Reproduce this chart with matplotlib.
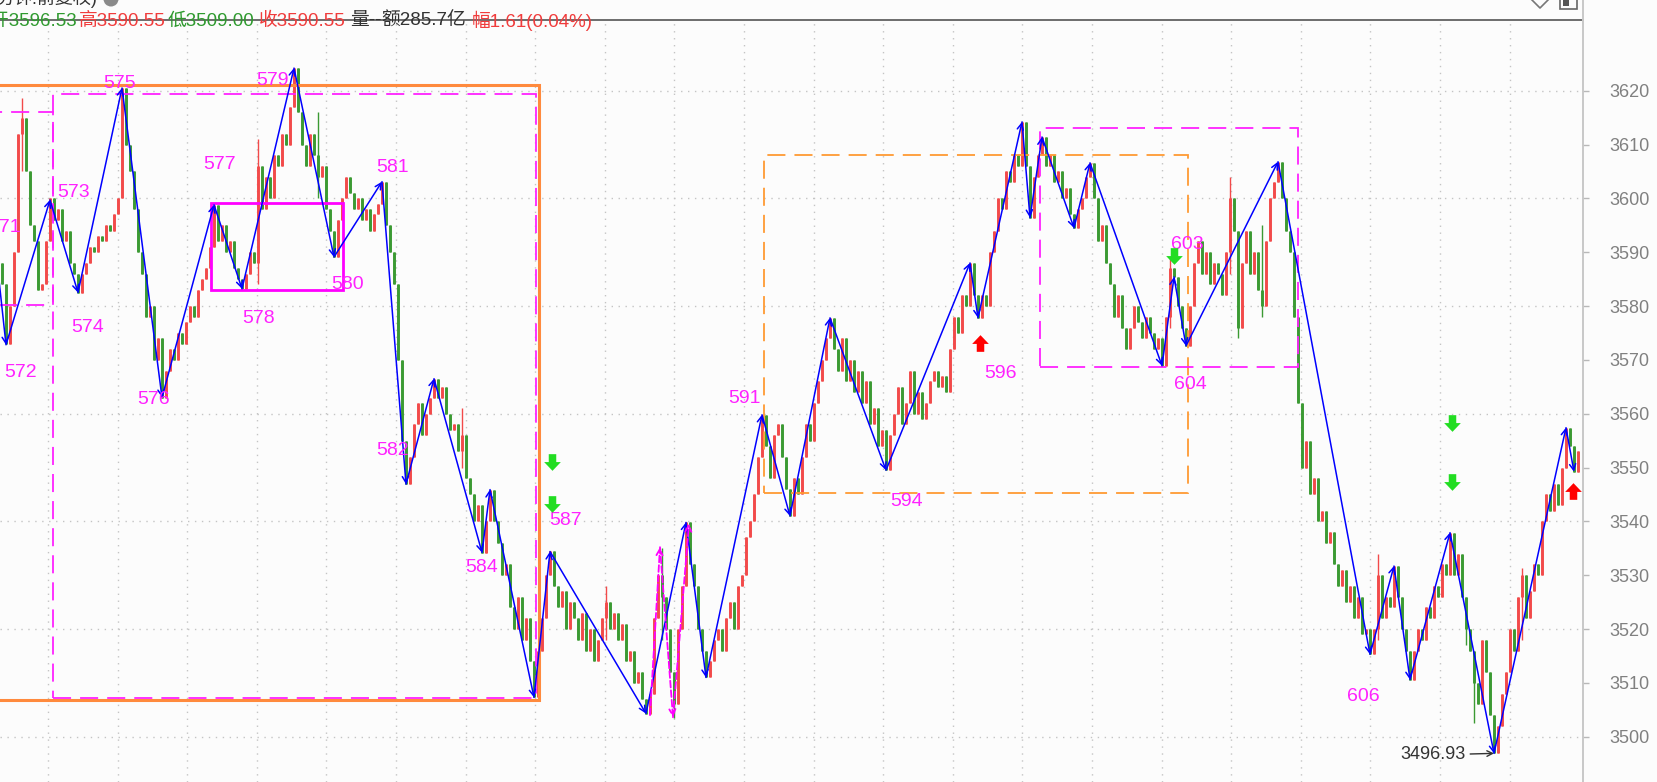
import matplotlib
matplotlib.use("Agg")
import matplotlib.pyplot as plt
from matplotlib.path import Path
from matplotlib.patches import Rectangle, Circle
import numpy as np

plt.rcParams['font.family'] = ['Liberation Sans', 'Noto Sans CJK SC', 'DejaVu Sans']

# ---------------- data ----------------
open0 = 3588.0
closes = [
    3584, 3573, 3580, 3590, 3612, 3615, 3605, 3595, 3592, 3583,
    3584, 3592, 3600, 3596, 3598, 3592, 3594, 3588, 3586, 3582.5,
    3586, 3588, 3591, 3590, 3593, 3592, 3595, 3594, 3597, 3600,
    3620.5, 3610, 3605, 3598, 3590, 3586, 3578, 3580, 3570, 3574,
    3563, 3568, 3572, 3570, 3575, 3573, 3577, 3580, 3578, 3583,
    3585, 3587, 3591, 3598.8, 3592, 3595, 3590, 3592, 3587, 3585,
    3583.2, 3586, 3590, 3588, 3606, 3598, 3604, 3600, 3608, 3606,
    3612, 3610, 3617, 3624.2, 3616, 3610, 3606, 3612, 3608, 3604,
    3606, 3598, 3594, 3589.1, 3596, 3600, 3604, 3601, 3598, 3600,
    3596, 3598, 3594, 3597, 3599, 3603.1, 3595, 3590, 3584, 3570,
    3555, 3546.9, 3552, 3558, 3562, 3556, 3560, 3563, 3566.5, 3563,
    3565, 3560, 3557, 3558, 3553, 3556, 3548, 3545, 3540, 3543,
    3534.2, 3540, 3545.9, 3540, 3536, 3530, 3532, 3524, 3520, 3526,
    3518, 3522, 3514, 3507.3, 3516, 3522, 3530, 3534.4, 3528, 3524,
    3527, 3520, 3525, 3522, 3518, 3523, 3516, 3520, 3514, 3518,
    3522, 3525, 3520, 3523, 3518, 3521, 3514, 3516, 3510, 3512,
    3507, 3504.3, 3508, 3522, 3530, 3526, 3520, 3512, 3506, 3520,
    3528, 3539.8, 3532, 3528, 3520, 3516, 3511, 3514, 3518, 3520,
    3516, 3522, 3525, 3520, 3528, 3530, 3537, 3540, 3545, 3552,
    3559.8, 3554, 3548, 3556, 3558, 3552, 3546, 3541, 3548, 3545,
    3552, 3558, 3555, 3562, 3566, 3570, 3574, 3577.8, 3572, 3568,
    3574, 3566, 3570, 3564, 3568, 3562, 3566, 3558, 3561, 3554,
    3557, 3549.5, 3556, 3560, 3565, 3558, 3562, 3568, 3560, 3564,
    3559, 3562, 3566, 3568, 3565, 3567, 3564, 3572, 3578, 3575,
    3582, 3580, 3588, 3582, 3577.8, 3582, 3580, 3590, 3594, 3600,
    3598, 3605, 3603, 3608, 3606, 3614.2, 3606, 3596.4, 3604, 3608,
    3611.4, 3606, 3608, 3603, 3605, 3600, 3602, 3597, 3594.5, 3598,
    3600, 3604, 3606.6, 3600, 3592, 3595, 3588, 3584, 3578, 3582,
    3576, 3572, 3576, 3580, 3577, 3574, 3578, 3575, 3572, 3574,
    3568.9, 3578, 3587, 3585.4, 3580, 3576, 3572.6, 3580, 3588, 3592,
    3586, 3590, 3584, 3588, 3586, 3582, 3590, 3600, 3594, 3576,
    3588, 3594, 3586, 3590, 3583, 3580, 3592, 3600, 3603, 3606.8,
    3600, 3594, 3590, 3578, 3562, 3550, 3555, 3545, 3548, 3540,
    3542, 3536, 3538, 3532, 3528, 3531, 3525, 3528, 3522, 3526,
    3519, 3520, 3515.3, 3520, 3530, 3522, 3526, 3524, 3531.7, 3526,
    3520, 3516, 3510.6, 3516, 3520, 3518, 3524, 3522, 3528, 3526,
    3532, 3530, 3537.9, 3530, 3534, 3526, 3520, 3516, 3510, 3506,
    3518, 3512, 3504, 3496.9, 3502, 3508, 3512, 3520, 3516, 3526,
    3530, 3522, 3527, 3532, 3530, 3540, 3545, 3542, 3547, 3543,
    3550, 3557.4, 3554, 3549.2, 3553,
]
# notable wicks
spike_idx = [5, 64, 79, 115, 151, 165, 168, 292, 307, 309, 315, 344, 366, 368, 380]
spike_hi = [3618.6, 3611, 3616, 3561, 3528, 3535, 3510, 3589, 3604, 3592, 3595, 3534, 3526, 3516, 3531.4]
spike_lo = [3605, 3584, 3600, 3550, 3518, 3518, 3503.5, 3576, 3586, 3574, 3578, 3518, 3517, 3502.6, 3518]

# zigzag pivots (blue)
zz_idx = [-1.5, 1, 12, 19, 30, 40, 53, 60, 73, 83, 95, 101, 108, 120, 122, 133, 137, 161,
          171, 176, 190, 197, 207, 221, 242, 244, 255, 257, 260, 268, 272, 290, 293, 296,
          319, 342, 348, 352, 362, 373, 391, 393]
zz_val = [3590, 3572.8, 3599.7, 3582.5, 3620.5, 3563.0, 3598.8, 3583.2, 3624.2, 3589.1,
          3603.1, 3546.9, 3566.5, 3534.2, 3545.9, 3507.3, 3534.4, 3504.3, 3539.8, 3511.0,
          3559.8, 3541.0, 3577.8, 3549.5, 3588.0, 3577.8, 3614.2, 3596.4, 3611.4, 3594.5,
          3606.6, 3568.9, 3585.4, 3572.6, 3606.8, 3515.3, 3531.7, 3510.6, 3537.9, 3496.9,
          3557.4, 3549.2]

# magenta dashed zigzag
mz_idx = [162, 164.5, 167.75, 171.75]
mz_val = [3504.0, 3535.2, 3503.6, 3539.6]

# pivot labels
lab_text = ["571", "572", "573", "574", "575", "576", "577", "578", "579", "580", "581",
            "582", "584", "587", "591", "594", "596", "603", "604", "606"]
lab_idx = [0.6, 4.75, 18, 21.5, 29.5, 38, 54.5, 64.25, 67.5, 86.5, 97.75,
           97.75, 120, 141, 185.5, 226.25, 249.5, 296.25, 297, 340.25]
lab_val = [3594.5, 3567.6, 3601, 3576.1, 3621.4, 3562.6, 3606.2, 3577.6, 3621.8, 3584.0, 3605.8,
           3553.1, 3531.5, 3540.2, 3562.8, 3543.7, 3567.5, 3591.4, 3565.4, 3507.5]

# signal arrows
red_up_idx = [244.5, 392.75]
red_up_val = [3573.2, 3545.6]
green_dn_idx = [137.5, 137.5, 293, 362.5, 362.5]
green_dn_val = [3551.1, 3543.2, 3589.3, 3558.3, 3547.4]

# boxes: (x0, x1, y0, y1)
box_orange_solid = (-5, 134.25, 3506.8, 3621.06)
box_mag_dash_big = (12.75, 133.5, 3507.2, 3619.4)
box_mag_dash_small = (-5, 12.75, 3580.2, 3616.0)
box_mag_solid = (52.25, 85.25, 3583.0, 3599.1)
box_orange_dash = (190.5, 296.5, 3545.3, 3608.1)
box_mag_dash_right = (259.5, 324, 3568.7, 3613.1)

low_note = "3496.93"
y_ticks = list(range(3500, 3621, 10))

header = [("开", "3596.53", '#2f9a2f'), ("高", "3590.55", '#f03c3c'), ("低", "3509.00", '#2f9a2f'),
          ("收", "3590.55", '#f03c3c'), ("量", "--", '#333333'), ("额", "285.7亿", '#333333'),
          ("幅", "1.61(0.04%)", '#f03c3c')]
header_x = [-10, 79, 168, 259, 350, 381, 472]

# ---------------- figure ----------------
W, H = 1657, 782
BG = '#fcfcfc'
fig = plt.figure(figsize=(W / 100, H / 100), dpi=100, facecolor=BG)
ax = fig.add_axes([0, 0, 1582 / W, 762 / H])
ax.set_facecolor(BG)
ax.set_xlim(-0.5, 395)
ax.set_ylim(3491.58, 3633.13)
for s in ax.spines.values():
    s.set_visible(False)
ax.set_xticks([])
ax.yaxis.tick_right()
ax.set_yticks(y_ticks)
ax.set_yticklabels([str(v) for v in y_ticks])
ax.tick_params(axis='y', direction='out', length=5, width=1, colors='#b8b8b8',
               labelcolor='#808080', labelsize=13, pad=15, right=True, left=False)

# grid
grid_kw = dict(color='#c4c4c4', lw=1.0, linestyle=(0, (1, 4)), zorder=0.5)
for v in range(3500, 3621, 20):
    ax.axhline(v, **grid_kw)
gx = 11.5
while gx < 393:
    ax.axvline(gx, **grid_kw)
    gx += 17.4

# candles
n = len(closes)
idx = np.arange(n)
opens = np.array([open0] + closes[:-1])
cl = np.array(closes, dtype=float)
hi = np.maximum(opens, cl)
lo = np.minimum(opens, cl)
for i, h, l in zip(spike_idx, spike_hi, spike_lo):
    hi[i] = max(hi[i], h)
    lo[i] = min(lo[i], l)
up = cl >= opens
RED, GREEN = '#f24a4a', '#3b9a33'
colors = np.where(up, RED, GREEN)
ax.vlines(idx, lo, hi, colors=colors, lw=1.0, zorder=2)
ax.vlines(idx, np.minimum(opens, cl), np.maximum(opens, cl), colors=colors, lw=2.1, zorder=2)

# boxes
def box(b, color, lw, ls, z=3):
    x0, x1, y0, y1 = b
    ax.add_patch(Rectangle((x0, y0), x1 - x0, y1 - y0, fill=False, edgecolor=color,
                           lw=lw, linestyle=ls, zorder=z))

dash = (0, (10, 5))
box(box_orange_solid, '#ff8a3d', 2.2, '-')
box(box_mag_dash_big, '#ff22ff', 1.3, dash)
box(box_mag_dash_small, '#ff22ff', 1.3, dash)
box(box_mag_solid, '#ff00ff', 2.0, '-')
box(box_orange_dash, '#ff9a33', 1.3, dash)
box(box_mag_dash_right, '#ff22ff', 1.3, dash)

# zigzag
for k in range(len(zz_idx) - 1):
    ax.annotate('', xy=(zz_idx[k + 1], zz_val[k + 1]), xytext=(zz_idx[k], zz_val[k]),
                arrowprops=dict(arrowstyle='->', color='#0000ff', lw=1.1, shrinkA=0, shrinkB=0,
                                mutation_scale=11), zorder=4)
for k in range(len(mz_idx) - 1):
    ax.annotate('', xy=(mz_idx[k + 1], mz_val[k + 1]), xytext=(mz_idx[k], mz_val[k]),
                arrowprops=dict(arrowstyle='->', color='#ff00ff', lw=1.3, linestyle='--',
                                shrinkA=0, shrinkB=0, mutation_scale=11), zorder=4)

# labels
for t, x, y in zip(lab_text, lab_idx, lab_val):
    ax.text(x, y, t, color='#ff22ff', fontsize=14, ha='center', va='center', zorder=5)

# low note
ax.annotate(low_note, xy=(zz_idx[-3], zz_val[-3]), xytext=(366, 3496.6), ha='right', va='center',
            fontsize=13, color='#333333',
            arrowprops=dict(arrowstyle='->', color='#333333', lw=1.0, shrinkA=1, shrinkB=0,
                            mutation_scale=10), zorder=5)

# signal arrows
up_verts = [(-0.45, -1), (0.45, -1), (0.45, -0.05), (1, -0.05), (0, 1), (-1, -0.05), (-0.45, -0.05), (-0.45, -1)]
up_codes = [Path.MOVETO] + [Path.LINETO] * 6 + [Path.CLOSEPOLY]
up_marker = Path(up_verts, up_codes)
dn_marker = Path([(x, -y) for x, y in up_verts], up_codes)
ax.plot(red_up_idx, red_up_val, linestyle='none', marker=up_marker, markersize=12,
        color='#ff0000', markeredgewidth=0, zorder=6)
ax.plot(green_dn_idx, green_dn_val, linestyle='none', marker=dn_marker, markersize=12,
        color='#22dd22', markeredgewidth=0, zorder=6)

# ---------------- overlay (header, frame) ----------------
ov = fig.add_axes([0, 0, 1, 1])
ov.set_xlim(0, W)
ov.set_ylim(H, 0)
ov.axis('off')
ov.patch.set_alpha(0)

ov.text(-4, -2, "分钟.前复权)", fontsize=13, color='#333333', ha='left', va='center')
ov.add_patch(Circle((111, -1), 7.5, color='#8a8a8a', lw=0))
for (lab, val, c), x in zip(header, header_x):
    ov.text(x, 21, lab + val, fontsize=13.5, color=c, ha='left', va='center')

ov.plot([0, 1583], [20, 20], color='#555555', lw=1.2)
ov.plot([1583, 1583], [0, H], color='#c8c8c8', lw=1.4)
# top-right icons
ov.plot([1532, 1540, 1548], [0, 8, 0], color='#777777', lw=1.2)
ov.add_patch(Rectangle((1560, -8), 17, 17, fill=False, edgecolor='#666666', lw=1.2))
ov.add_patch(Rectangle((1563, -5), 6, 11, color='#555555', lw=0))

fig.savefig('out.png', dpi=100, facecolor=BG)
